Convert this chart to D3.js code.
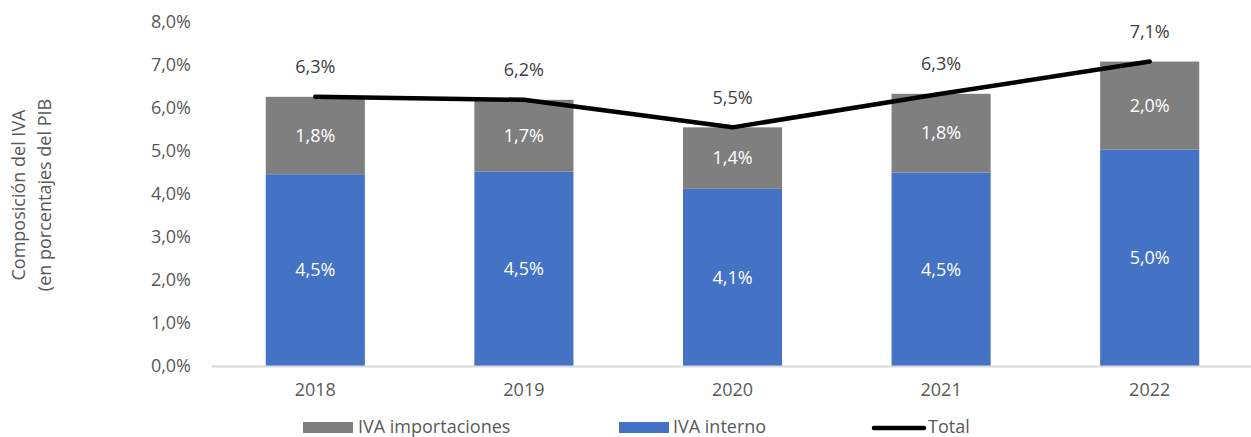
<!DOCTYPE html>
<html>
<head>
<meta charset="utf-8">
<script src="https://cdn.jsdelivr.net/npm/d3@7"></script>
<style>
    body { margin: 0; background: #ffffff; }
    svg text { font-family: "Open Sans", "Noto Sans", sans-serif; }
</style>
</head>
<body>
<svg id="chart" width="1251" height="437"></svg>
<script>
// chart values
let years = ["2018", "2019", "2020", "2021", "2022"];
let ivaInterno = [4.46, 4.52, 4.12, 4.50, 5.03];
let ivaImportaciones = [1.80, 1.67, 1.43, 1.83, 2.05];
let ivaTotal = [6.26, 6.19, 5.55, 6.33, 7.08];
let yTicks = [0, 1, 2, 3, 4, 5, 6, 7, 8];

let fmt = v => d3.format(".1f")(v).replace(".", ",") + "%";
let fontSize = "18px";

let svg = d3.select("svg#chart");
let xScale = d3.scaleBand().domain(years).range([211, 1254]).paddingInner(0.525).paddingOuter(0.2625);
let yScale = d3.scaleLinear().domain([0, 8]).range([366, 22]);

// y axis (labels only)
let yAxis = d3.axisLeft(yScale).tickValues(yTicks).tickFormat(d => fmt(d)).tickSize(0).tickPadding(0);
svg.append("g")
    .attr("transform", "translate(191,0)")
    .style("font-size", fontSize)
    .call(yAxis)
    .call(g => g.select(".domain").remove())
    .selectAll("text")
    .style("font-family", "'Open Sans', sans-serif")
    .attr("fill", "#595959");

// bars
let rows = years.map((y, i) => ({ year: y, interno: ivaInterno[i], imp: ivaImportaciones[i], total: ivaTotal[i] }));
let bw = xScale.bandwidth();

svg.selectAll("rect.interno").data(rows).enter().append("rect")
    .attr("class", "interno")
    .attr("x", d => xScale(d.year))
    .attr("width", bw)
    .attr("y", d => yScale(d.interno))
    .attr("height", d => yScale(0) - yScale(d.interno))
    .attr("fill", "#4472c4");

svg.selectAll("rect.imp").data(rows).enter().append("rect")
    .attr("class", "imp")
    .attr("x", d => xScale(d.year))
    .attr("width", bw)
    .attr("y", d => yScale(d.interno + d.imp))
    .attr("height", d => yScale(d.interno) - yScale(d.interno + d.imp))
    .attr("fill", "#7f7f7f");

// x axis
let xAxis = d3.axisBottom(xScale).tickSize(0).tickPadding(17);
svg.append("g")
    .attr("transform", "translate(0," + yScale(0) + ")")
    .style("font-size", fontSize)
    .call(xAxis)
    .call(g => g.select(".domain").attr("stroke", "#d9d9d9").attr("stroke-width", 2))
    .selectAll("text")
    .style("font-family", "'Open Sans', sans-serif")
    .attr("fill", "#595959");

// segment labels
svg.selectAll("text.lblInterno").data(rows).enter().append("text")
    .attr("x", d => xScale(d.year) + bw / 2)
    .attr("y", d => (yScale(0) + yScale(d.interno)) / 2)
    .attr("dy", "0.35em")
    .attr("text-anchor", "middle")
    .attr("fill", "#ffffff")
    .style("font-size", fontSize)
    .text(d => fmt(d.interno));

svg.selectAll("text.lblImp").data(rows).enter().append("text")
    .attr("x", d => xScale(d.year) + bw / 2)
    .attr("y", d => (yScale(d.interno) + yScale(d.interno + d.imp)) / 2)
    .attr("dy", "0.35em")
    .attr("text-anchor", "middle")
    .attr("fill", "#ffffff")
    .style("font-size", fontSize)
    .text(d => fmt(d.imp));

// total line
let line = d3.line().x(d => xScale(d.year) + bw / 2).y(d => yScale(d.total));
svg.append("path")
    .datum(rows)
    .attr("d", line)
    .attr("fill", "none")
    .attr("stroke", "#000000")
    .attr("stroke-width", 4.5)
    .attr("stroke-linecap", "round")
    .attr("stroke-linejoin", "round");

svg.selectAll("text.lblTotal").data(rows).enter().append("text")
    .attr("x", d => xScale(d.year) + bw / 2)
    .attr("y", d => yScale(d.total) - 30)
    .attr("dy", "0.35em")
    .attr("text-anchor", "middle")
    .attr("fill", "#404040")
    .style("font-size", fontSize)
    .text(d => fmt(d.total));

// y axis title
svg.append("text")
    .attr("transform", "translate(19,195)rotate(-90)")
    .attr("text-anchor", "middle")
    .attr("dy", "0.35em")
    .attr("fill", "#595959")
    .style("font-size", fontSize)
    .text("Composición del IVA");
svg.append("text")
    .attr("transform", "translate(45,195)rotate(-90)")
    .attr("text-anchor", "middle")
    .attr("dy", "0.35em")
    .attr("fill", "#595959")
    .style("font-size", fontSize)
    .text("(en porcentajes del PIB");

// legend
let legendY = 427;
svg.append("rect").attr("x", 303).attr("y", legendY - 5).attr("width", 50).attr("height", 11).attr("fill", "#7f7f7f");
svg.append("text").attr("x", 358).attr("y", legendY).attr("dy", "0.35em").attr("fill", "#595959").style("font-size", fontSize).text("IVA importaciones");
svg.append("rect").attr("x", 619).attr("y", legendY - 5).attr("width", 50).attr("height", 11).attr("fill", "#4472c4");
svg.append("text").attr("x", 673).attr("y", legendY).attr("dy", "0.35em").attr("fill", "#595959").style("font-size", fontSize).text("IVA interno");
svg.append("line").attr("x1", 874).attr("x2", 924).attr("y1", legendY + 1).attr("y2", legendY + 1)
    .attr("stroke", "#000000").attr("stroke-width", 4.5).attr("stroke-linecap", "round");
svg.append("text").attr("x", 928).attr("y", legendY).attr("dy", "0.35em").attr("fill", "#595959").style("font-size", fontSize).text("Total");
</script>
</body>
</html>
